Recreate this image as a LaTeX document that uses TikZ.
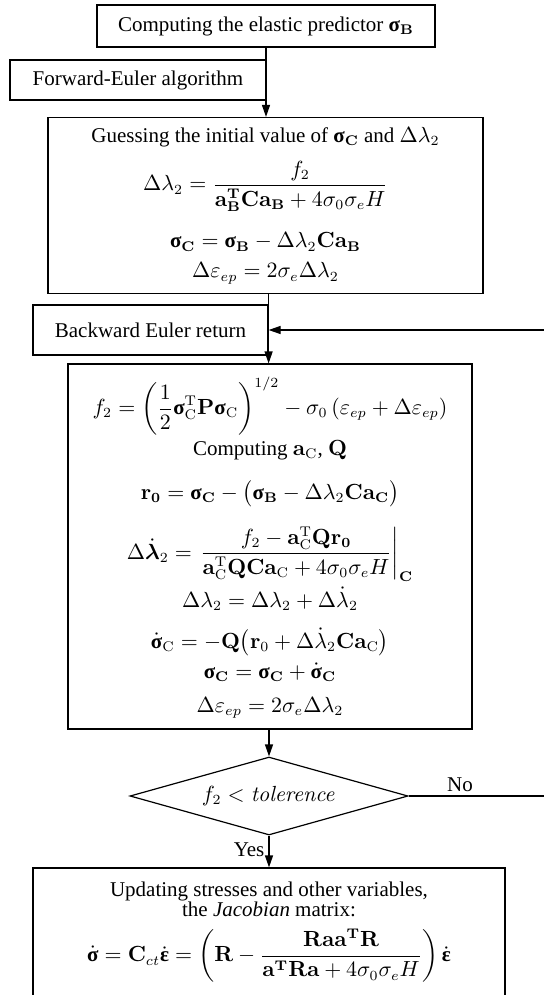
\documentclass[tikz,border=0pt]{standalone}
\usepackage{amsmath}
\usepackage{bm}
\usepackage[no-math]{fontspec}
\setmainfont{Liberation Serif}
\usetikzlibrary{arrows.meta,shapes.geometric,calc}
\newcommand{\bsig}{\text{\normalfont\bfseries σ}}
\newcommand{\beps}{\text{\normalfont\bfseries ε}}

\begin{document}
\begin{tikzpicture}[x=0.5pt,y=-0.5pt,
  stepbox/.style={draw,line width=0.6pt,align=center,inner sep=0pt},
  test/.style={draw,diamond,aspect=3.56,line width=0.6pt,inner sep=0pt,minimum width=139pt,minimum height=39pt},
  flow/.style={-{Triangle[length=6pt,width=4pt]},line width=0.6pt},
  lbl/.style={inner sep=2pt},
  font=\fontsize{10.5}{12.5}\selectfont
]
  \useasboundingbox (0,0) rectangle (544,995);
  \clip (0,0) rectangle (544,995);

  \node[stepbox,minimum width=169pt,minimum height=21pt] (predictor) at (266,26)
    {Computing the elastic predictor $\bsig_{\mathbf B}$};
  \node[stepbox,minimum width=128pt,minimum height=20pt] (forward) at (138,80)
    {Forward-Euler algorithm};

  \node[stepbox,minimum width=217.5pt,minimum height=88pt] (guess) at (265.5,205.5) {
    Guessing the initial value of $\bsig_{\mathbf C}$ and $\Delta\lambda_2$\\[6pt]
    $\displaystyle\Delta\lambda_2=\frac{f_2}{\mathbf a_{\mathbf B}^{\mathbf T}\mathbf C\mathbf a_{\mathbf B}+4\sigma_0\sigma_e H}$\\[9.5pt]
    $\bsig_{\mathbf C}=\bsig_{\mathbf B}-\Delta\lambda_2\mathbf C\mathbf a_{\mathbf B}$\\[2.5pt]
    $\Delta\varepsilon_{ep}=2\sigma_e\Delta\lambda_2$};

  \node[stepbox,minimum width=117.5pt,minimum height=25pt] (backward) at (150.5,330)
    {Backward Euler return};

  \node[stepbox,minimum width=202pt,minimum height=182.5pt] (iter) at (270,546.5) {
    \rule{0pt}{20pt}$\displaystyle f_2=\left(\frac12\bsig_{\mathrm C}^{\mathrm T}\mathbf P\bsig_{\mathrm C}\right)^{1/2}-\sigma_0\left(\varepsilon_{ep}+\Delta\varepsilon_{ep}\right)$\\[1.5pt]
    Computing $\mathbf a_{\mathrm C}$, $\mathbf Q$\\[9.5pt]
    $\mathbf r_{\mathbf 0}=\bsig_{\mathbf C}-\bigl(\bsig_{\mathbf B}-\Delta\lambda_2\mathbf C\mathbf a_{\mathbf C}\bigr)$\\[9pt]
    $\displaystyle\Delta\dot{\bm\lambda}_2=\left.\frac{f_2-\mathbf a_{\mathrm C}^{\mathrm T}\mathbf Q\mathbf r_{\mathbf 0}}{\mathbf a_{\mathrm C}^{\mathrm T}\mathbf Q\mathbf C\mathbf a_{\mathrm C}+4\sigma_0\sigma_e H}\right|_{\mathbf C}$\\[2pt]
    $\Delta\lambda_2=\Delta\lambda_2+\Delta\dot\lambda_2$\\[8pt]
    $\dot{\bsig}_{\mathrm C}=-\mathbf Q\bigl(\mathbf r_0+\Delta\dot\lambda_2\mathbf C\mathbf a_{\mathrm C}\bigr)$\\[2.5pt]
    $\bsig_{\mathbf C}=\bsig_{\mathbf C}+\dot{\bsig}_{\mathbf C}$\\[4.5pt]
    $\Delta\varepsilon_{ep}=2\sigma_e\Delta\lambda_2$};

  \node[test] (check) at (269,796) {$f_2<\mathit{tolerence}$};

  \node[stepbox,minimum width=236pt,minimum height=64pt] (update) at (269,932) {
    Updating stresses and other variables,\\[-2.5pt]
    the \textit{Jacobian} matrix:\\[5.5pt]
    $\displaystyle\dot{\bsig}=\mathbf C_{ct}\dot{\beps}=\left(\mathbf R-\frac{\mathbf R\mathbf a\mathbf a^{\mathbf T}\mathbf R}{\mathbf a^{\mathbf T}\mathbf R\mathbf a+4\sigma_0\sigma_e H}\right)\dot{\beps}$};

  \coordinate (loopin) at (544,330);
  \coordinate (loopout) at (544,796);

  \draw[flow] (predictor.south) -- (predictor.south |- guess.north);
  \draw[flow] (guess.south -| backward.east) -- (backward.east |- iter.north);
  \draw[flow] (loopin) -- (backward.east);
  \draw[flow] (iter.south -| check.north) -- (check.north);
  \draw[line width=0.6pt] (check.east) -- node[lbl,above,pos=0.38] (no) {No} (loopout);
  \draw[flow] (check.south) -- node[lbl,left,pos=0.45] (yes) {Yes} (update.north -| check.south);
\end{tikzpicture}
\end{document}
